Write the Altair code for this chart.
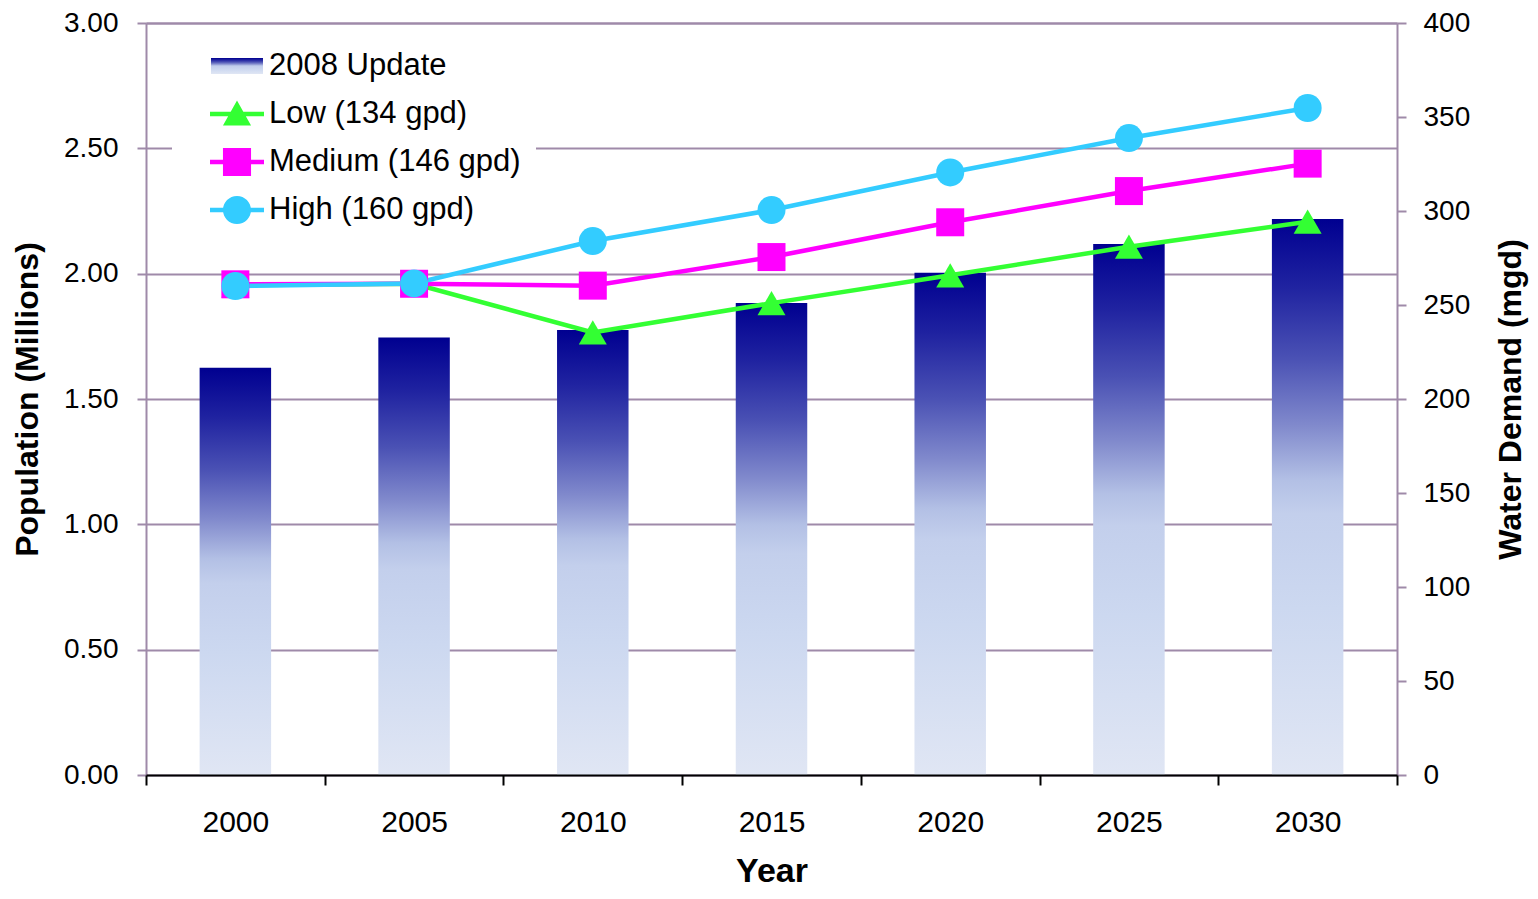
import altair as alt
import pandas as pd

# ---------------- data ----------------
years = ["2000", "2005", "2010", "2015", "2020", "2025", "2030"]
population = [1.625, 1.745, 1.775, 1.883, 2.004, 2.118, 2.218]   # millions (left axis)
low = [260.5, 261.3, 235.4, 251.0, 265.8, 281.0, 294.3]           # mgd (right axis)
medium = [261.0, 261.3, 260.3, 275.5, 294.0, 310.6, 325.2]
high = [260.1, 261.5, 284.0, 300.5, 320.5, 338.8, 354.8]
bar_name = "2008 Update"
series_names = ["Low (134 gpd)", "Medium (146 gpd)", "High (160 gpd)"]
left_ticks = [0, 0.5, 1.0, 1.5, 2.0, 2.5, 3.0]
right_ticks = [0, 50, 100, 150, 200, 250, 300, 350, 400]

# ---------------- styles ----------------
FONT = "Liberation Sans"
PURPLE = "#9f8aa9"
series_colors = ["#33ff33", "#ff00ff", "#33ccff"]
series_shapes = ["triangle-up", "square", "circle"]
stops = [(0, "#000090"), (0.12, "#1f22a0"), (0.25, "#4a51b4"), (0.37, "#8089cc"),
         (0.47, "#b3c0e5"), (0.53, "#c3cfec"), (0.7, "#ccd8f0"), (1, "#e0e6f4")]
bar_gradient = alt.Gradient(gradient="linear", x1=0, x2=0, y1=0, y2=1,
                            stops=[alt.GradientStop(offset=o, color=c) for o, c in stops])
grad_expr = ("{gradient: 'linear', x1: 0, y1: 0, x2: 0, y2: 1, stops: ["
             + ", ".join("{offset: %s, color: '%s'}" % (o, c) for o, c in stops) + "]}")
legend_fill_expr = (
    "datum.value == '%s' ? %s : datum.value == '%s' ? '%s' : datum.value == '%s' ? '%s' : '%s'"
    % (bar_name, grad_expr, series_names[0], series_colors[0],
       series_names[1], series_colors[1], series_colors[2]))
stub = "M-1,-0.083H1V0.083H-1Z "
legend_paths = [
    "M-0.963,-0.296H0.963V0.296H-0.963Z",
    stub + "M0,-0.5L0.52,0.43H-0.52Z",
    stub + "M-0.52,-0.52H0.52V0.52H-0.52Z",
    stub + "M-0.52,0A0.52,0.52,0,1,1,0.52,0A0.52,0.52,0,1,1,-0.52,0Z",
]

df_bar = pd.DataFrame({"year": years, "population": population})
rows = []
for name, vals in zip(series_names, [low, medium, high]):
    for yr, v in zip(years, vals):
        rows.append({"year": yr, "series": name, "demand": v})
df_lines = pd.DataFrame(rows)

x_scale = alt.Scale(domain=years, paddingInner=0, paddingOuter=0)

bottom_axis = alt.Axis(
    orient="bottom", title="Year", titleFont=FONT, titleFontSize=34, titleFontWeight="bold",
    titleColor="black", titleBaseline="alphabetic", titleY=106,
    labelFont=FONT, labelFontSize=30, labelColor="black", labelAngle=0, labelPadding=22,
    tickSize=10, tickWidth=2, tickColor="black", domainColor="black", domainWidth=2,
    tickBand="extent", grid=False, zindex=1)

top_axis = alt.Axis(orient="top", title=None, labels=False, ticks=False, grid=False,
                    domainColor=PURPLE, domainWidth=2, zindex=1)

left_axis = alt.Axis(
    orient="left", values=left_ticks, format=".2f", title="Population (Millions)",
    titleFont=FONT, titleFontSize=32, titleFontWeight="bold", titleColor="black",
    titleAngle=270, titleAlign="center", titleBaseline="middle", titleX=-119, titleY=376,
    labelFont=FONT, labelFontSize=28, labelColor="black", labelPadding=19,
    tickSize=9, tickWidth=2, tickColor=PURPLE, domainColor=PURPLE, domainWidth=2,
    grid=True, gridColor=PURPLE, gridWidth=2)

right_axis = alt.Axis(
    orient="right", values=right_ticks, format="d", title="Water Demand (mgd)",
    titleFont=FONT, titleFontSize=32, titleFontWeight="bold", titleColor="black",
    titleAngle=270, titleAlign="center", titleBaseline="middle", titleX=113, titleY=376,
    labelFont=FONT, labelFontSize=28, labelColor="black", labelPadding=17,
    tickSize=9, tickWidth=2, tickColor=PURPLE, domainColor=PURPLE, domainWidth=2,
    grid=False)

bars = alt.Chart(df_bar).mark_bar(color=bar_gradient, width=alt.RelativeBandSize(0.4)).encode(
    x=alt.X("year:N", sort=years, scale=x_scale, axis=bottom_axis),
    y=alt.Y("population:Q", scale=alt.Scale(domain=[0, 3], nice=False), axis=left_axis),
)

color_enc = alt.Color("series:N", scale=alt.Scale(domain=series_names, range=series_colors),
                      legend=None)

lines = alt.Chart(df_lines).mark_line(strokeWidth=4.5).encode(
    x=alt.X("year:N", sort=years, scale=x_scale, axis=None),
    y=alt.Y("demand:Q", scale=alt.Scale(domain=[0, 400], nice=False), axis=right_axis),
    color=color_enc,
)

points = alt.Chart(df_lines).mark_point(filled=True, size=784, opacity=1).encode(
    x=alt.X("year:N", sort=years, scale=x_scale, axis=None),
    y=alt.Y("demand:Q", scale=alt.Scale(domain=[0, 400], nice=False), axis=None),
    color=color_enc,
    shape=alt.Shape("series:N", scale=alt.Scale(domain=series_names, range=series_shapes),
                    legend=None),
)

legend_layer = alt.Chart(df_lines).mark_point(
    filled=True, opacity=0, color=alt.ExprRef(legend_fill_expr)).encode(
    x=alt.X("year:N", sort=years, scale=x_scale, axis=top_axis),
    y=alt.Y("demand:Q", scale=alt.Scale(domain=[0, 400], nice=False), axis=None),
    shape=alt.Shape("series:N",
                    scale=alt.Scale(domain=[bar_name] + series_names, range=legend_paths),
                    legend=alt.Legend(
                        title=None, orient="none", direction="vertical",
                        legendX=26, legendY=5, padding=14, symbolOffset=24,
                        fillColor="white", strokeColor="white",
                        symbolSize=2916, symbolOpacity=1, symbolStrokeWidth=0,
                        symbolStrokeColor="transparent", clipHeight=48,
                        labelFont=FONT, labelFontSize=31, labelColor="black",
                        labelOffset=5, labelLimit=500, rowPadding=0)),
)

chart = alt.layer(bars, lines, points, legend_layer).resolve_scale(
    y="independent", shape="independent"
).properties(
    width=1251, height=752,
    padding={"left": 138, "top": 15, "right": 132, "bottom": 114},
    autosize=alt.AutoSizeParams(type="none"),
).configure(font=FONT).configure_view(stroke=None)

chart.save("out.html", embed_options={"renderer": "svg", "actions": False})
